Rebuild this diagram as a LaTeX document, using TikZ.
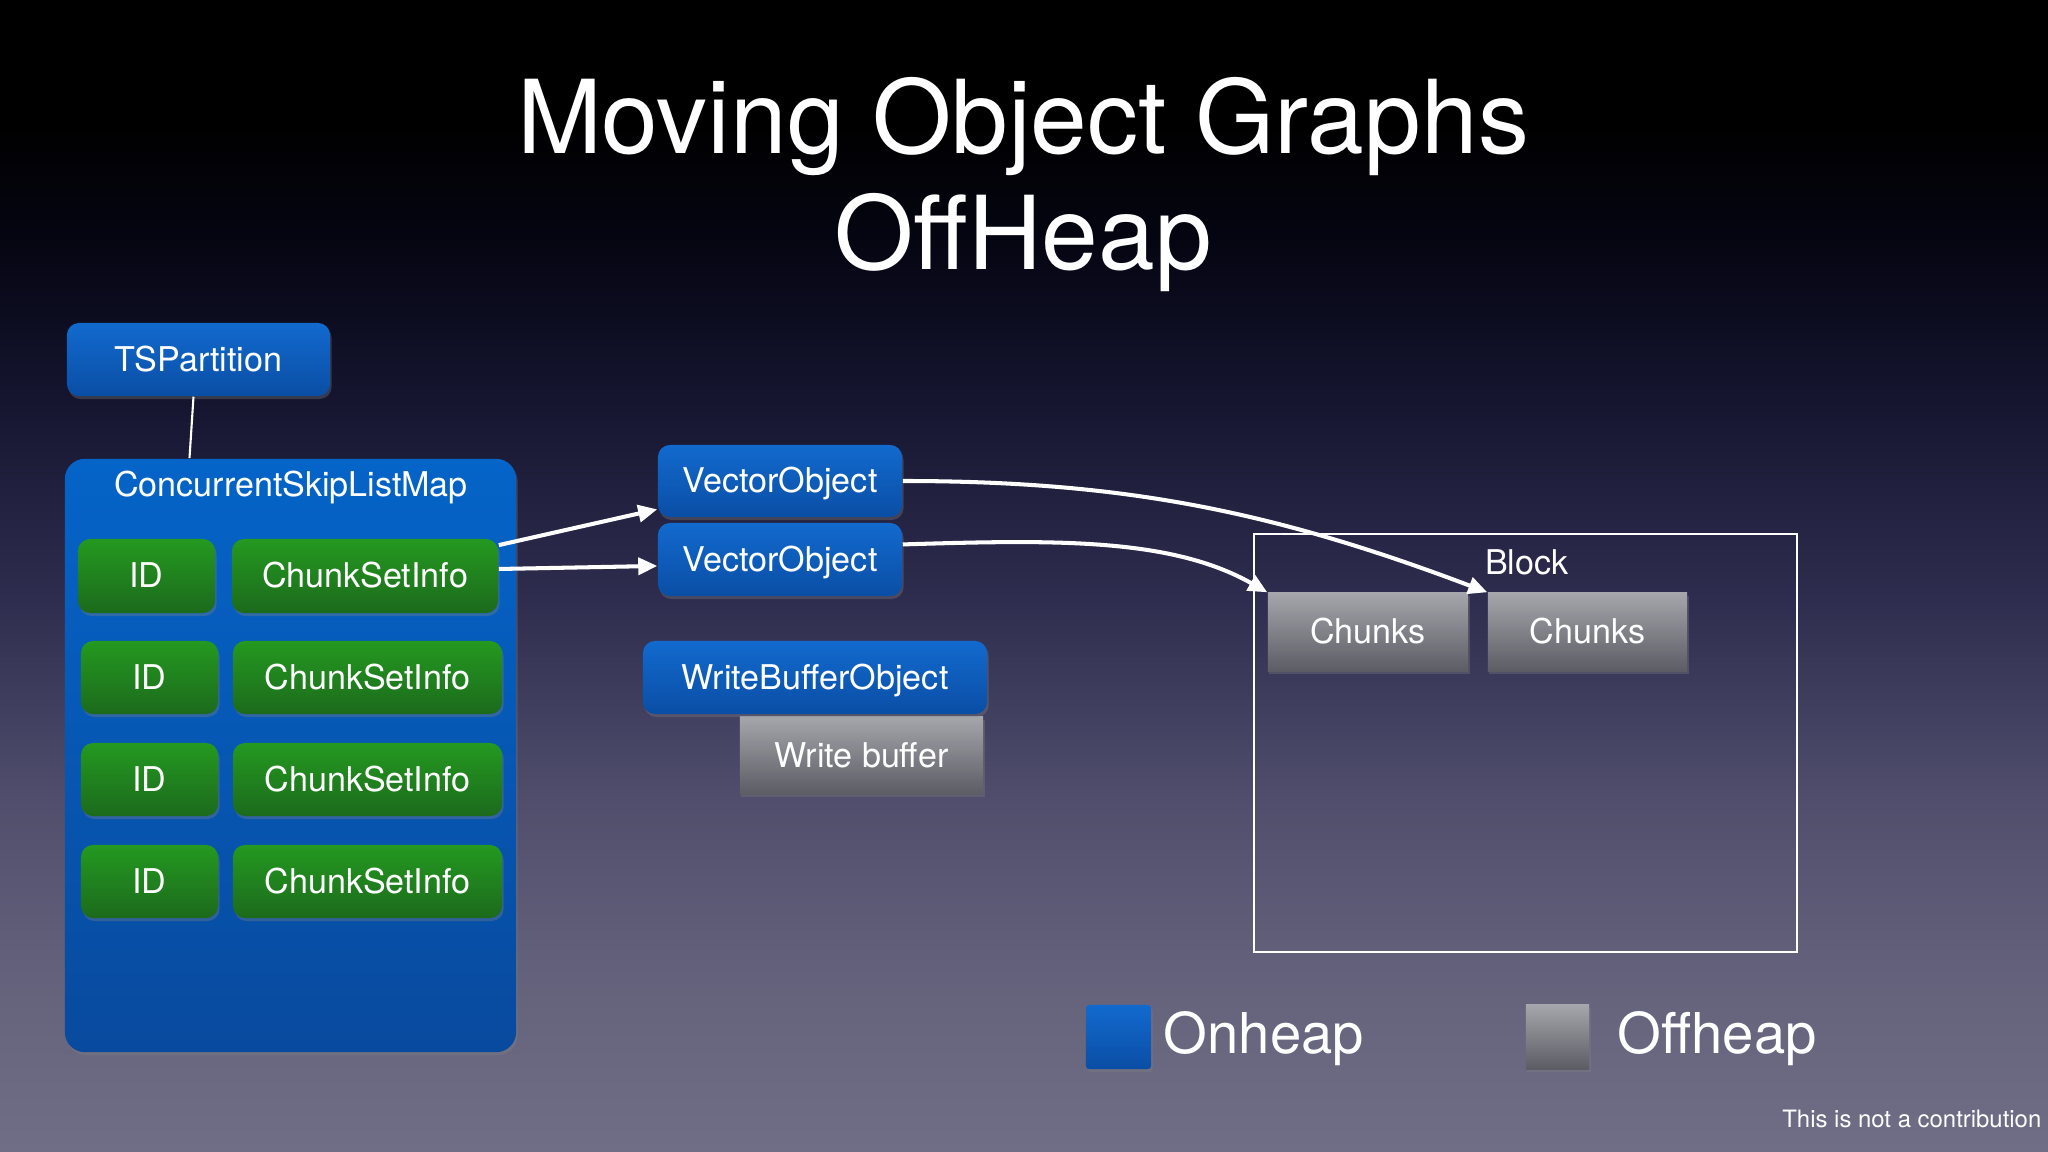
\documentclass[tikz,border=0pt]{standalone}
\usepackage{fontspec}
\setmainfont{TeX Gyre Heros}
\usetikzlibrary{shadows,arrows.meta,calc}
\definecolor{bg0}{RGB}{112,110,135}
\definecolor{bg1}{RGB}{102,100,125}
\definecolor{bg2}{RGB}{80,78,108}
\definecolor{bg3}{RGB}{47,45,79}
\definecolor{bg4}{RGB}{21,21,48}
\definecolor{bg5}{RGB}{6,6,20}
\definecolor{bg6}{RGB}{0,0,0}
\definecolor{onT}{RGB}{18,106,206}
\definecolor{onB}{RGB}{10,78,165}
\definecolor{bigT}{RGB}{5,100,200}
\definecolor{bigB}{RGB}{8,74,158}
\definecolor{grT}{RGB}{36,153,32}
\definecolor{grB}{RGB}{28,106,28}
\definecolor{gyT}{RGB}{165,165,172}
\definecolor{gyB}{RGB}{92,92,100}
\pgfdeclareverticalshading{bgshade}{100bp}{color(0bp)=(bg0); color(25bp)=(bg0); color(31.6bp)=(bg1); color(40.3bp)=(bg2); color(49bp)=(bg3); color(57.6bp)=(bg4); color(64.1bp)=(bg5); color(69.8bp)=(bg6); color(100bp)=(bg6)}
\newcommand\boxfont{\fontsize{9.7pt}{11pt}\selectfont}
\begin{document}
\begin{tikzpicture}[x=0.01cm,y=-0.01cm,
  box/.style={inner sep=0pt, text=white, font=\boxfont, text height=1.55ex, text depth=0.3ex, align=center},
  shad/.style={drop shadow={opacity=0.35,shadow xshift=0.015cm,shadow yshift=-0.03cm}},
  onbox/.style={box, shad, rounded corners=0.12cm, top color=onT, bottom color=onB},
  grbox/.style={box, shad, rounded corners=0.12cm, top color=grT, bottom color=grB},
  offbox/.style={box, shad, top color=gyT, bottom color=gyB},
  lbl/.style={inner sep=0pt, text=white, font=\boxfont},
  conn/.style={white, line width=1.15pt, -{Triangle[length=0.19cm,width=0.17cm]}}]
\shade[shading=bgshade] (0,0) rectangle (2048,1152);
\useasboundingbox (0,0) rectangle (2048,1152);

% title
\node[inner sep=0pt, text=white, font=\fontsize{29pt}{35pt}\selectfont, anchor=base] (t1) at (1023,154) {Moving Object Graphs};
\node[inner sep=0pt, text=white, font=\fontsize{29pt}{35pt}\selectfont, anchor=base] (t2) at (1023,270) {OffHeap};

% TSPartition and map
\node[onbox, minimum width=2.63cm, minimum height=0.73cm] (tsp) at (198.5,359.5) {TSPartition};
\node[box, shad, rounded corners=0.2cm, top color=bigT, bottom color=bigB, minimum width=4.51cm, minimum height=5.93cm] (cslm) at (290.5,755.5) {};
\node[lbl] (cslmlbl) at (291,487) {ConcurrentSkipListMap};
\draw[white, line width=0.6pt] ($(tsp.south)+(-5,0)$) -- ($(cslm.north)+(-101,0)$);

\node[grbox, minimum width=1.37cm, minimum height=0.74cm] (id1) at (146.5,576) {ID};
\node[grbox, minimum width=2.66cm, minimum height=0.74cm] (csi1) at (365,576) {ChunkSetInfo};
\node[grbox, minimum width=1.37cm, minimum height=0.73cm] (id2) at (149.5,677.5) {ID};
\node[grbox, minimum width=2.69cm, minimum height=0.73cm] (csi2) at (367.5,677.5) {ChunkSetInfo};
\node[grbox, minimum width=1.37cm, minimum height=0.73cm] (id3) at (149.5,779.5) {ID};
\node[grbox, minimum width=2.69cm, minimum height=0.73cm] (csi3) at (367.5,779.5) {ChunkSetInfo};
\node[grbox, minimum width=1.37cm, minimum height=0.73cm] (id4) at (149.5,881.5) {ID};
\node[grbox, minimum width=2.69cm, minimum height=0.73cm] (csi4) at (367.5,881.5) {ChunkSetInfo};

% vector objects
\node[onbox, minimum width=2.44cm, minimum height=0.72cm] (vo1) at (780,481) {VectorObject};
\node[onbox, minimum width=2.44cm, minimum height=0.73cm] (vo2) at (780,559.5) {VectorObject};

% write buffer
\node[offbox, minimum width=2.43cm, minimum height=0.77cm] (wb) at (861.5,755.5) {Write buffer};
\node[onbox, minimum width=3.44cm, minimum height=0.73cm] (wbo) at (815,677.5) {WriteBufferObject};

% block
\node[draw=white, line width=0.75pt, inner sep=0pt, minimum width=5.43cm, minimum height=4.18cm] (block) at (1525.5,743) {};
\node[lbl] (blocklbl) at (1527,562) {Block};
\node[offbox, minimum width=2.0cm, minimum height=0.78cm] (ch1) at (1368,632) {Chunks};
\node[offbox, minimum width=1.99cm, minimum height=0.78cm] (ch2) at (1587.5,632) {Chunks};

% connectors
\draw[conn] (csi1.13) -- (vo1.193);
\draw[conn] (csi1.3) -- (vo2.183);
\draw[conn] (vo1.east) .. controls (1120,481) and (1270,510) .. (ch2.north west);
\draw[conn] (vo2.7) .. controls (1050,540) and (1170,537) .. (ch1.north west);

% legend
\node[shad, inner sep=0pt, rounded corners=0.03cm, top color=onT, bottom color=onB, minimum width=0.65cm, minimum height=0.64cm] (legon) at (1118.5,1037) {};
\node[inner sep=0pt, text=white, font=\fontsize{16pt}{19pt}\selectfont, anchor=base west] (legontxt) at (1163,1053) {Onheap};
\node[shad, inner sep=0pt, top color=gyT, bottom color=gyB, minimum width=0.63cm, minimum height=0.64cm] (legoff) at (1557.5,1037) {};
\node[inner sep=0pt, text=white, font=\fontsize{16pt}{19pt}\selectfont, anchor=base west] (legofftxt) at (1617,1053) {Offheap};

\node[inner sep=0pt, text=white, font=\fontsize{6.8pt}{8pt}\selectfont, anchor=base east] (foot) at (2042,1127) {This is not a contribution};
\end{tikzpicture}
\end{document}
